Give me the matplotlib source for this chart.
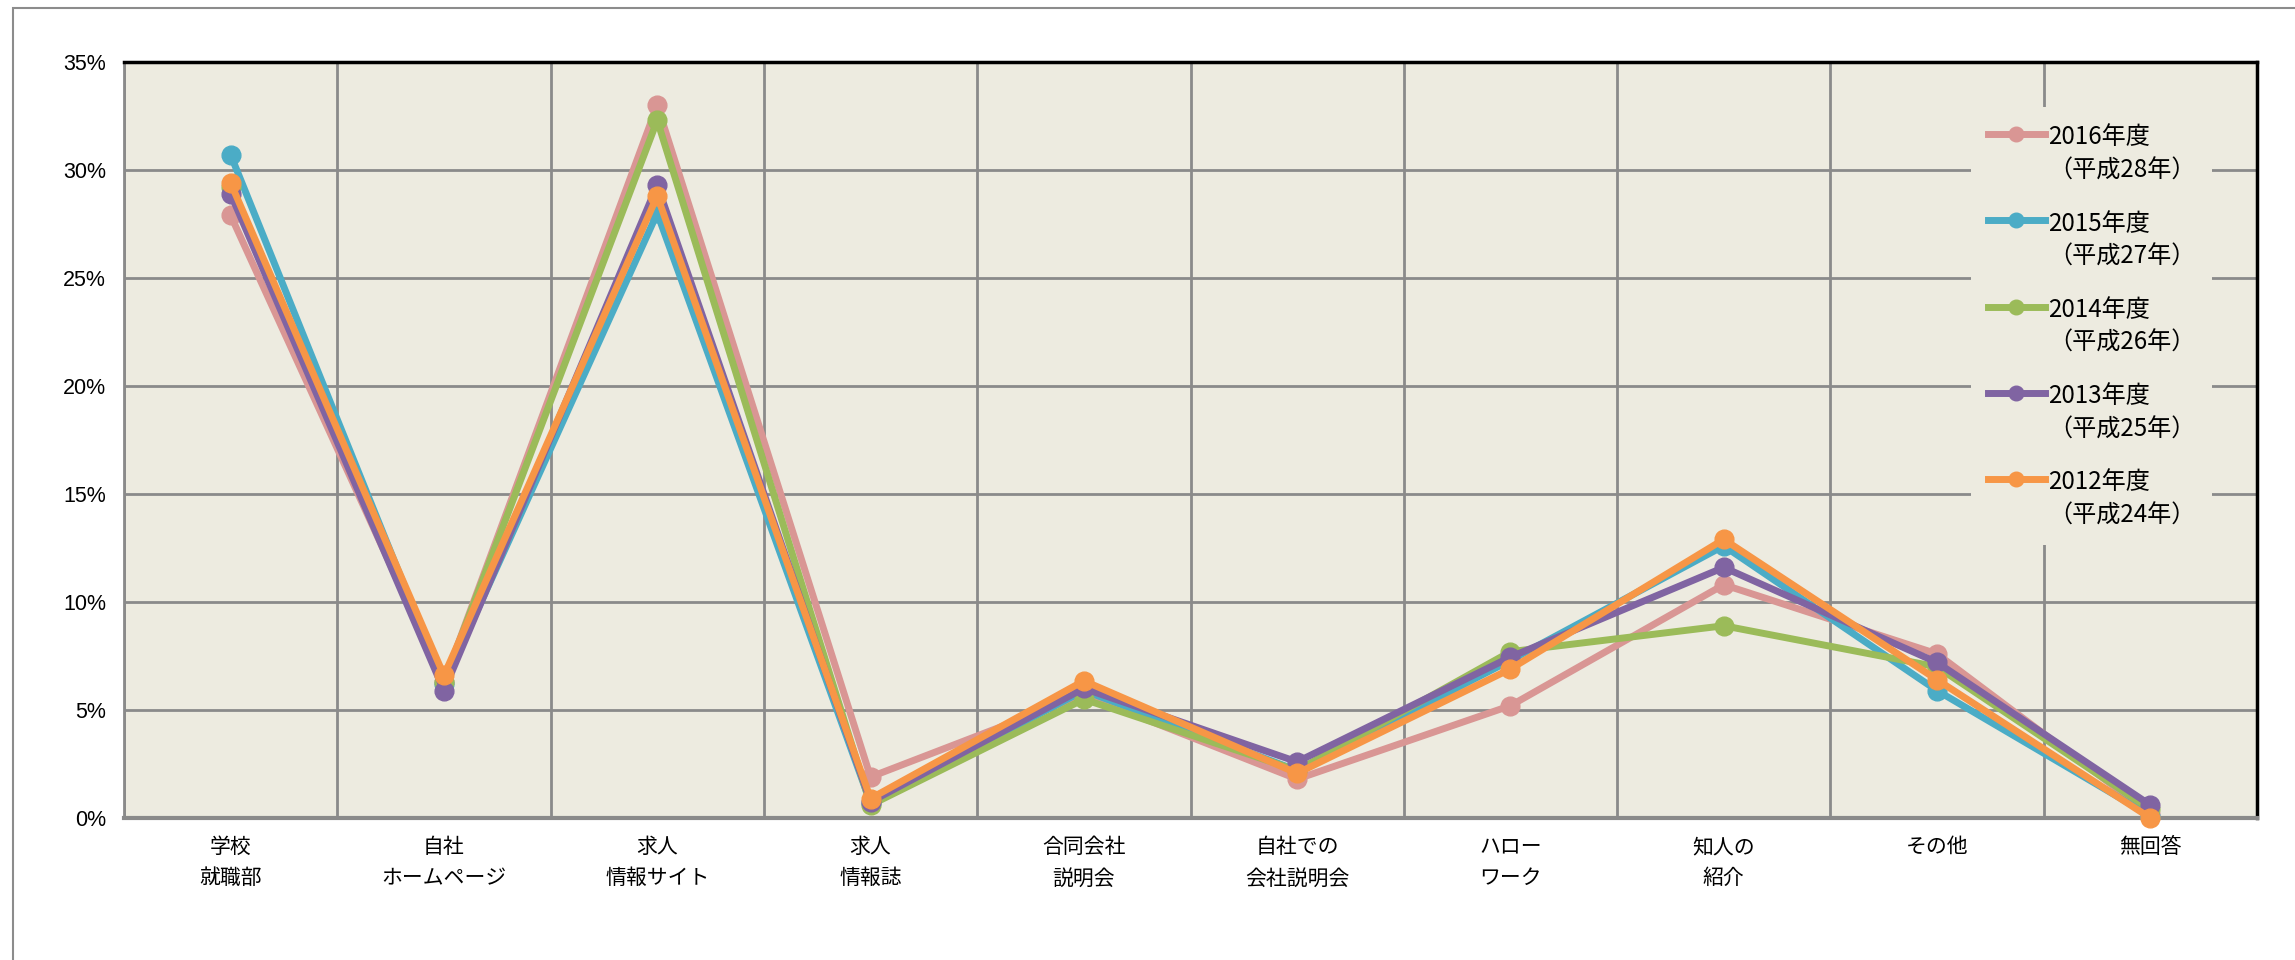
import matplotlib.pyplot as plt
import matplotlib.patches as mpatches
from matplotlib.legend_handler import HandlerLine2D
import numpy as np

plt.rcParams['font.family'] = ['Noto Sans CJK JP', 'DejaVu Sans']

categories = ["学校\n就職部", "自社\nホームページ", "求人\n情報サイト", "求人\n情報誌",
              "合同会社\n説明会", "自社での\n会社説明会", "ハロー\nワーク", "知人の\n紹介",
              "その他", "無回答"]

labels = ["2016年度\n（平成28年）", "2015年度\n（平成27年）", "2014年度\n（平成26年）",
          "2013年度\n（平成25年）", "2012年度\n（平成24年）"]

y2016 = [27.9, 6.3, 33.0, 1.9, 5.7, 1.8, 5.2, 10.8, 7.6, 0.2]
y2015 = [30.7, 6.2, 28.0, 0.7, 5.9, 2.2, 7.3, 12.6, 5.9, 0.1]
y2014 = [29.2, 6.3, 32.3, 0.6, 5.5, 2.2, 7.7, 8.9, 7.0, 0.4]
y2013 = [28.9, 5.9, 29.3, 0.75, 6.0, 2.6, 7.45, 11.6, 7.2, 0.6]
y2012 = [29.4, 6.6, 28.8, 0.9, 6.35, 2.07, 6.9, 12.9, 6.4, 0.0]

colors = ["#D99694", "#4BACC6", "#9BBB59", "#8064A2", "#F79646"]
bg = "#EDEBE0"
gridc = "#8A8A8A"


class FirstLineHandler(HandlerLine2D):
    # put the legend line next to the first text line instead of the last one
    def create_artists(self, legend, orig_handle, xdescent, ydescent,
                       width, height, fontsize, trans):
        arts = super().create_artists(legend, orig_handle, xdescent, ydescent,
                                      width, height, fontsize, trans)
        for a in arts:
            a.set_ydata(np.asarray(a.get_ydata()) + 15.3)
        return arts


fig = plt.figure(figsize=(22.95, 9.6), dpi=100)
ax = fig.add_axes([124/2295, 1-818/960, (2257-124)/2295, (818-62)/960])
ax.set_facecolor(bg)

x = np.arange(len(categories))
lines = []
for y, c, lab in zip([y2016, y2015, y2014, y2013, y2012], colors, labels):
    ln, = ax.plot(x, y, color=c, linewidth=5, marker='o', markersize=13.5,
                  label=lab, clip_on=False, zorder=3)
    lines.append(ln)

ax.set_xlim(-0.5, len(categories)-0.5)
ax.set_ylim(0, 35)
ax.set_yticks(np.arange(0, 36, 5))
ax.set_yticklabels(["%d%%" % v for v in np.arange(0, 36, 5)],
                   family=['Liberation Sans', 'DejaVu Sans'], fontsize=15.5)
ax.set_xticks(x)
ax.set_xticklabels(categories, fontsize=15, linespacing=1.55)
ax.set_xticks(np.arange(-0.5, len(categories)), minor=True)
ax.tick_params(axis='x', which='both', length=0, pad=13)
ax.tick_params(axis='y', length=0, pad=13)

ax.grid(True, axis='y', which='major', color=gridc, linewidth=2)
ax.grid(True, axis='x', which='minor', color=gridc, linewidth=2)
ax.set_axisbelow(True)

ax.spines['top'].set_color('black')
ax.spines['top'].set_linewidth(2.5)
ax.spines['right'].set_color('black')
ax.spines['right'].set_linewidth(2.5)
ax.spines['left'].set_color(gridc)
ax.spines['left'].set_linewidth(2)
ax.spines['bottom'].set_color(gridc)
ax.spines['bottom'].set_linewidth(3)

leg = ax.legend(handles=lines, loc='upper left', bbox_to_anchor=(0.866, 0.940),
                borderaxespad=0, frameon=True, facecolor=bg, edgecolor='none',
                framealpha=1, fancybox=False, fontsize=17.4, numpoints=1,
                handlelength=2.35, handletextpad=0.12, labelspacing=1.12,
                borderpad=0.7,
                handler_map={ln: FirstLineHandler() for ln in lines})
for t in leg.get_texts():
    t.set_linespacing(1.36)
for h in leg.legend_handles:
    h.set_markersize(10.5)
    h.set_linewidth(5)
leg.set_zorder(5)

# outer frame of the picture
fig.patches.append(mpatches.Rectangle((13/2295, -0.2), 1.2, 1.2 - 8/960,
                                      transform=fig.transFigure, fill=False,
                                      edgecolor="#8C8C8C", linewidth=1.5))

fig.savefig("out.png", dpi=100)
